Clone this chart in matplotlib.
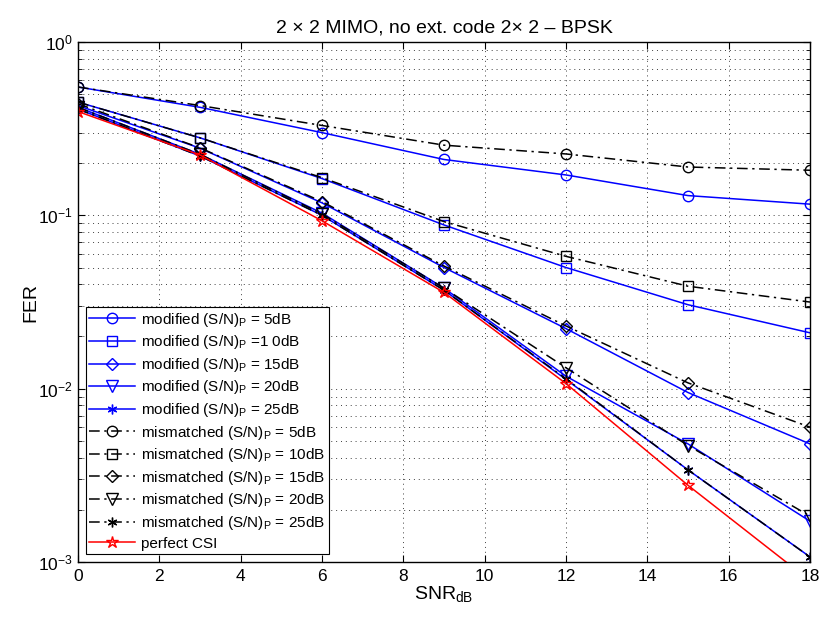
import matplotlib
matplotlib.use("Agg")
import matplotlib.pyplot as plt
import numpy as np
from matplotlib.ticker import LogLocator, NullFormatter

plt.rcParams['font.family'] = ['Liberation Sans', 'DejaVu Sans']
plt.rcParams['mathtext.fontset'] = 'custom'
plt.rcParams['mathtext.rm'] = 'Liberation Sans'
plt.rcParams['mathtext.it'] = 'Liberation Sans'

snr = [0, 3, 6, 9, 12, 15, 18]

mod5 = [0.55, 0.42, 0.30, 0.21, 0.171, 0.13, 0.116]
mod10 = [0.45, 0.28, 0.163, 0.088, 0.050, 0.0305, 0.021]
mod15 = [0.43, 0.244, 0.118, 0.050, 0.0222, 0.0095, 0.0048]
mod20 = [0.42, 0.225, 0.103, 0.038, 0.0118, 0.0048, 0.00172]
mod25 = [0.41, 0.22, 0.10, 0.037, 0.0113, 0.0034, 0.00107]
mis5 = [0.55, 0.43, 0.33, 0.254, 0.226, 0.19, 0.182]
mis10 = [0.45, 0.28, 0.165, 0.092, 0.058, 0.039, 0.0316]
mis15 = [0.44, 0.245, 0.12, 0.051, 0.023, 0.0108, 0.006]
mis20 = [0.42, 0.225, 0.102, 0.038, 0.0132, 0.0047, 0.00184]
mis25 = [0.41, 0.22, 0.10, 0.037, 0.0114, 0.0034, 0.00107]
perfect = [0.397, 0.223, 0.093, 0.0359, 0.0107, 0.00277, 0.00078]

labels_mod = ['modified (S/N)$_\\mathregular{P}$ = 5dB',
              'modified (S/N)$_\\mathregular{P}$ =1 0dB',
              'modified (S/N)$_\\mathregular{P}$ = 15dB',
              'modified (S/N)$_\\mathregular{P}$ = 20dB',
              'modified (S/N)$_\\mathregular{P}$ = 25dB']
labels_mis = ['mismatched (S/N)$_\\mathregular{P}$ = 5dB',
              'mismatched (S/N)$_\\mathregular{P}$ = 10dB',
              'mismatched (S/N)$_\\mathregular{P}$ = 15dB',
              'mismatched (S/N)$_\\mathregular{P}$ = 20dB',
              'mismatched (S/N)$_\\mathregular{P}$ = 25dB']

fig = plt.figure(figsize=(8.24, 6.26), dpi=100)
ax = fig.add_axes([78/824, 1-562/626, (810-78)/824, (562-42)/626])

markers = ['o', 's', 'D', 'v', (6, 2, 0)]
msizes = [7.5, 6.5, 6.5, 8, 7]
for d, lab, m, ms in zip([mod5, mod10, mod15, mod20, mod25], labels_mod, markers, msizes):
    ax.plot(snr, d, color='#0000ff', linestyle='-', linewidth=1.1, marker=m,
            markersize=ms, markerfacecolor='none', markeredgecolor='#0000ff',
            markeredgewidth=1.0, label=lab)
for d, lab, m, ms in zip([mis5, mis10, mis15, mis20, mis25], labels_mis, markers, msizes):
    ax.plot(snr, d, color='black', linestyle=(0, (7, 3, 1.5, 3)), linewidth=1.1, marker=m,
            markersize=ms, markerfacecolor='none', markeredgecolor='black',
            markeredgewidth=1.0, label=lab)
ax.plot(snr, perfect, color='#ff0000', linestyle='-', linewidth=1.1, marker='*',
        markersize=9, markerfacecolor='none', markeredgecolor='#ff0000',
        markeredgewidth=1.0, label='perfect CSI')

ax.set_yscale('log')
ax.set_xlim(0, 18)
ax.set_ylim(1e-3, 1)
ax.set_xticks([0, 2, 4, 6, 8, 10, 12, 14, 16, 18])
ax.yaxis.set_minor_locator(LogLocator(base=10, subs=np.arange(2, 10)))
ax.yaxis.set_minor_formatter(NullFormatter())
ax.tick_params(which='both', direction='in', top=True, right=True, labelsize=12.5)
ax.tick_params(which='major', length=5)
ax.tick_params(which='minor', length=3)
ax.tick_params(axis='x', pad=5)
ax.grid(True, which='major', linestyle=(0, (1, 4)), color='#404040', linewidth=0.7)
ax.grid(True, which='minor', axis='y', linestyle=(0, (1, 4)), color='#404040', linewidth=0.7)
for s in ax.spines.values():
    s.set_linewidth(1.0)

ax.set_title('2 × 2 MIMO, no ext. code 2× 2 – BPSK', fontsize=14, pad=7)
ax.set_xlabel('SNR$_\\mathregular{dB}$', fontsize=14, labelpad=0)
ax.set_ylabel('FER', fontsize=14, labelpad=-1)

leg = ax.legend(loc='lower left', fontsize=11, handlelength=3.0, borderaxespad=0.5,
                fancybox=False, edgecolor='black', framealpha=1, labelspacing=0.3,
                borderpad=0.25, handletextpad=0.4)
leg.get_frame().set_linewidth(0.8)

fig.savefig('out.png', dpi=100)
